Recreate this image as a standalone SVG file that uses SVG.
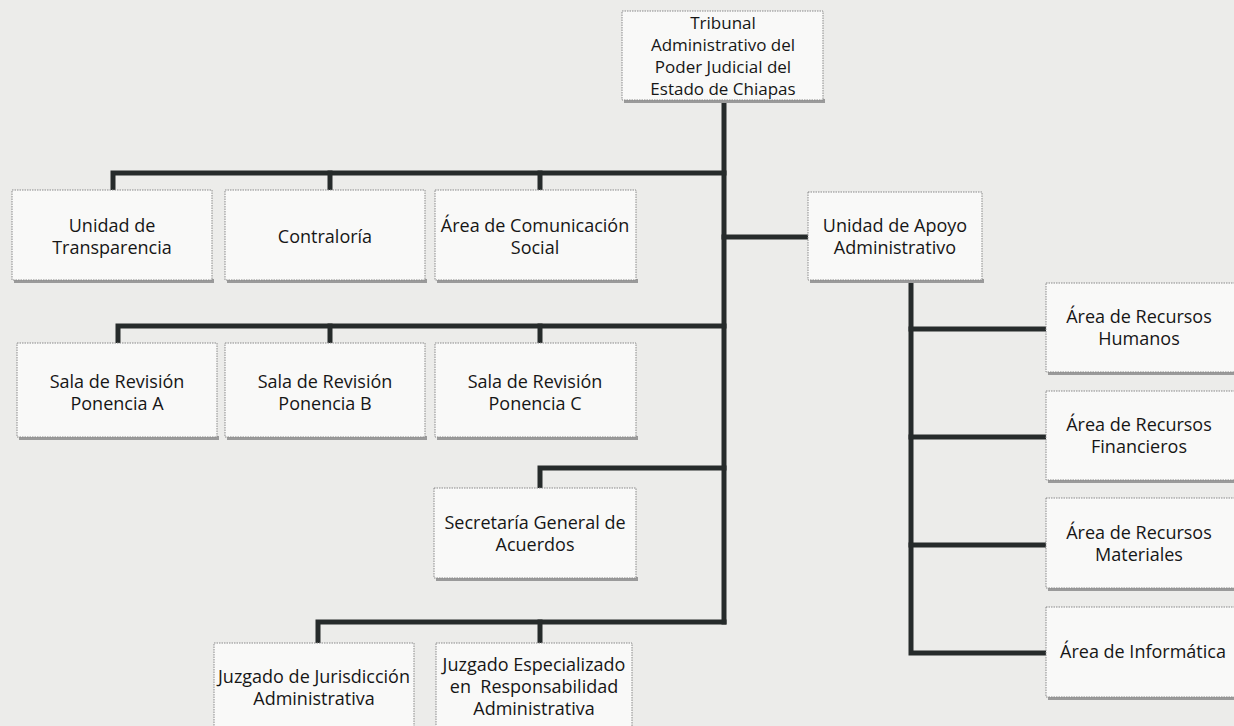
<svg xmlns="http://www.w3.org/2000/svg" width="1234" height="726" viewBox="0 0 1234 726">
<defs>
<style>
.bg{fill:#ececea}
.box{fill:#f9f9f8;stroke:#8a8a8a;stroke-width:1;stroke-dasharray:1.5 1}
.sh{fill:#9a9a9a}
.ln{stroke:#262b2b;stroke-width:5;fill:none;stroke-linecap:square}
text{font-family:"Open Sans","Noto Sans",sans-serif;font-size:18px;fill:#161616;text-anchor:middle;white-space:pre}
.t{font-size:17px}
</style>
</defs>
<rect class="bg" x="0" y="0" width="1234" height="726"/>
<g id="connectors">
<path class="ln" d="M724,101 V622"/>
<path class="ln" d="M113,190 V173 H724"/>
<path class="ln" d="M330,173 V190"/>
<path class="ln" d="M540,173 V190"/>
<path class="ln" d="M724,237 H808"/>
<path class="ln" d="M118,343 V326 H724"/>
<path class="ln" d="M330,326 V343"/>
<path class="ln" d="M540,326 V343"/>
<path class="ln" d="M540,488 V468 H724"/>
<path class="ln" d="M318,643 V622 H724"/>
<path class="ln" d="M540,622 V643"/>
<path class="ln" d="M911,280 V653 H1046"/>
<path class="ln" d="M911,329 H1046"/>
<path class="ln" d="M911,437 H1046"/>
<path class="ln" d="M911,545 H1046"/>
</g>
<g id="n-tribunal"><rect class="sh" x="624" y="99" width="201" height="4"/><rect class="box" x="622" y="11" width="201" height="89"/>
<text class="t" x="723" y="29">Tribunal</text><text class="t" x="723" y="51">Administrativo del</text><text class="t" x="723" y="73">Poder Judicial del</text><text class="t" x="723" y="95">Estado de Chiapas</text></g>
<g id="n-transparencia"><rect class="sh" x="14" y="279" width="200" height="4"/><rect class="box" x="12" y="190" width="200" height="90"/>
<text x="112" y="232">Unidad de</text><text x="112" y="254">Transparencia</text></g>
<g id="n-contraloria"><rect class="sh" x="227" y="279" width="200" height="4"/><rect class="box" x="225" y="190" width="200" height="90"/>
<text x="325" y="243">Contraloría</text></g>
<g id="n-comunicacion"><rect class="sh" x="437" y="279" width="201" height="4"/><rect class="box" x="435" y="190" width="201" height="90"/>
<text x="535" y="232">Área de Comunicación</text><text x="535" y="254">Social</text></g>
<g id="n-apoyo"><rect class="sh" x="810" y="279" width="174" height="4"/><rect class="box" x="808" y="192" width="174" height="88"/>
<text x="895" y="232">Unidad de Apoyo</text><text x="895" y="254">Administrativo</text></g>
<g id="n-salaA"><rect class="sh" x="19" y="436" width="200" height="4"/><rect class="box" x="17" y="343" width="200" height="94"/>
<text x="117" y="388">Sala de Revisión</text><text x="117" y="410">Ponencia A</text></g>
<g id="n-salaB"><rect class="sh" x="227" y="436" width="200" height="4"/><rect class="box" x="225" y="343" width="200" height="94"/>
<text x="325" y="388">Sala de Revisión</text><text x="325" y="410">Ponencia B</text></g>
<g id="n-salaC"><rect class="sh" x="437" y="436" width="201" height="4"/><rect class="box" x="435" y="343" width="201" height="94"/>
<text x="535" y="388">Sala de Revisión</text><text x="535" y="410">Ponencia C</text></g>
<g id="n-secretaria"><rect class="sh" x="436" y="577" width="202" height="4"/><rect class="box" x="434" y="488" width="202" height="90"/>
<text x="535" y="529">Secretaría General de</text><text x="535" y="551">Acuerdos</text></g>
<g id="n-jurisdiccion"><rect class="box" x="214" y="643" width="200" height="90"/>
<text x="314" y="683">Juzgado de Jurisdicción</text><text x="314" y="705">Administrativa</text></g>
<g id="n-especializado"><rect class="box" x="436" y="643" width="196" height="90"/>
<text x="534" y="671">Juzgado Especializado</text><text x="534" y="693">en  Responsabilidad</text><text x="534" y="715">Administrativa</text></g>
<g id="n-humanos"><rect class="sh" x="1048" y="371" width="190" height="4"/><rect class="box" x="1046" y="283" width="192" height="89"/>
<text x="1139" y="323">Área de Recursos</text><text x="1139" y="345">Humanos</text></g>
<g id="n-financieros"><rect class="sh" x="1048" y="479" width="190" height="4"/><rect class="box" x="1046" y="391" width="192" height="89"/>
<text x="1139" y="431">Área de Recursos</text><text x="1139" y="453">Financieros</text></g>
<g id="n-materiales"><rect class="sh" x="1048" y="587" width="190" height="4"/><rect class="box" x="1046" y="498" width="192" height="90"/>
<text x="1139" y="539">Área de Recursos</text><text x="1139" y="561">Materiales</text></g>
<g id="n-informatica"><rect class="sh" x="1048" y="696" width="190" height="4"/><rect class="box" x="1046" y="607" width="192" height="90"/>
<text x="1143" y="658">Área de Informática</text></g>
</svg>
